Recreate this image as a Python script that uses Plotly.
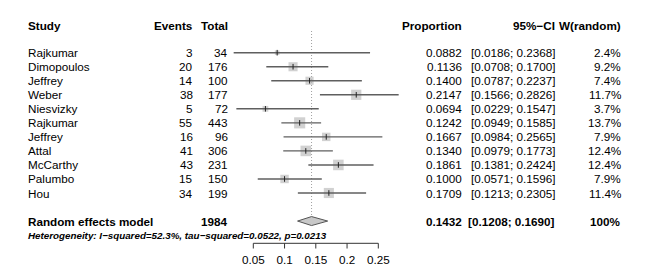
import plotly.graph_objects as go

studies = ["Rajkumar", "Dimopoulos", "Jeffrey", "Weber", "Niesvizky", "Rajkumar",
           "Jeffrey", "Attal", "McCarthy", "Palumbo", "Hou"]
events = [3, 20, 14, 38, 5, 55, 16, 41, 43, 15, 34]
totals = [34, 176, 100, 177, 72, 443, 96, 306, 231, 150, 199]
proportion = [0.0882, 0.1136, 0.1400, 0.2147, 0.0694, 0.1242, 0.1667, 0.1340, 0.1861, 0.1000, 0.1709]
ci_low = [0.0186, 0.0708, 0.0787, 0.1566, 0.0229, 0.0949, 0.0984, 0.0979, 0.1381, 0.0571, 0.1213]
ci_high = [0.2368, 0.1700, 0.2237, 0.2826, 0.1547, 0.1585, 0.2565, 0.1773, 0.2424, 0.1596, 0.2305]
weights = [2.4, 9.2, 7.4, 11.7, 3.7, 13.7, 7.9, 12.4, 12.4, 7.9, 11.4]

pooled_label = "Random effects model"
pooled_total = 1984
pooled_est = 0.1432
pooled_low = 0.1208
pooled_high = 0.1690
pooled_weight = "100%"
heterogeneity = "Heterogeneity: I\u2212squared=52.3%, tau\u2212squared=0.0522, p=0.0213"
tick_vals = [0.05, 0.1, 0.15, 0.2, 0.25]
tick_text = ["0.05", "0.1", "0.15", "0.2", "0.25"]

# page body has an 8px margin; size the figure so it fits the 650x271 window
OFF = 8
W, H = 650 - OFF, 271 - OFF
FONT = "Liberation Sans, Arial, sans-serif"
FS = 11.7

# target-pixel -> data mapping (target pixels measured on the 650x271 reference)
px0, v0, ppu = 253.3, 0.05, 625.0
def pxv(p):
    return v0 + (p - px0) / ppu

row_y0, row_step = 52.7, 14.03
def prow(p):
    return (p - row_y0) / row_step

rows = list(range(len(studies)))
pooled_row = 12
het_row = prow(235.3)
header_row = prow(25)
axis_row = prow(243.3)
tick_end_row = prow(248.5)
tick_label_row = prow(261.5)

fig = go.Figure()

# reference dotted line at pooled estimate
fig.add_trace(go.Scatter(x=[pooled_est, pooled_est], y=[prow(31), pooled_row - 0.3],
                         mode="lines", line=dict(color="#a0a0a0", width=1, dash="1px,2px"),
                         hoverinfo="skip", showlegend=False))

# squares
sizes = [3.0 * (w ** 0.5) for w in weights]
fig.add_trace(go.Scatter(x=proportion, y=rows, mode="markers",
                         marker=dict(symbol="square", size=sizes, color="#bebebe",
                                     line=dict(width=0)),
                         hoverinfo="skip", showlegend=False))

# CI lines
cx, cy = [], []
for r, lo, hi in zip(rows, ci_low, ci_high):
    cx += [lo, hi, None]
    cy += [r, r, None]
fig.add_trace(go.Scatter(x=cx, y=cy, mode="lines",
                         line=dict(color="#5f5f5f", width=1.4),
                         hoverinfo="skip", showlegend=False))

# center ticks
fig.add_trace(go.Scatter(x=proportion, y=rows, mode="markers",
                         marker=dict(symbol="line-ns", size=4,
                                     line=dict(color="#222222", width=1)),
                         hoverinfo="skip", showlegend=False))

# diamond
fig.add_trace(go.Scatter(x=[pooled_low, pooled_est, pooled_high, pooled_est, pooled_low],
                         y=[pooled_row, pooled_row - 0.32, pooled_row, pooled_row + 0.32, pooled_row],
                         mode="lines", fill="toself", fillcolor="#c8c8c8",
                         line=dict(color="#555555", width=1),
                         hoverinfo="skip", showlegend=False))

# x axis (drawn on the data scale)
ax_x, ax_y = [tick_vals[0], tick_vals[-1], None], [axis_row, axis_row, None]
for tv in tick_vals:
    ax_x += [tv, tv, None]
    ax_y += [axis_row, tick_end_row, None]
fig.add_trace(go.Scatter(x=ax_x, y=ax_y, mode="lines",
                         line=dict(color="#333333", width=1),
                         hoverinfo="skip", showlegend=False))
fig.add_trace(go.Scatter(x=tick_vals, y=[tick_label_row] * len(tick_vals), mode="text",
                         text=tick_text, textposition="middle center",
                         textfont=dict(family=FONT, size=FS, color="black"),
                         cliponaxis=False, hoverinfo="skip", showlegend=False))

ann = []
def txt(px, row, s, anchor, bold=False, italic=False, size=FS):
    t = s
    if bold:
        t = "<b>" + t + "</b>"
    if italic:
        t = "<i>" + t + "</i>"
    ann.append(dict(x=pxv(px), xref="x", y=row, yref="y", text=t, showarrow=False,
                    xanchor=anchor, yanchor="middle",
                    font=dict(family=FONT, size=size, color="black")))

x_study, x_events, x_total = 25.7, 194.5, 229.5
x_prop, x_ci, x_w = 463.5, 556.5, 623

txt(x_study, header_row, "Study", "left", bold=True)
txt(x_events, header_row, "Events", "right", bold=True)
txt(x_total, header_row, "Total", "right", bold=True)
txt(x_prop, header_row, "Proportion", "right", bold=True)
txt(x_ci, header_row, "95%\u2212CI", "right", bold=True)
txt(x_w, header_row, "W(random)", "right", bold=True)

for r, s, e, n, p, lo, hi, w in zip(rows, studies, events, totals, proportion, ci_low, ci_high, weights):
    txt(x_study, r, s, "left")
    txt(x_events, r, str(e), "right")
    txt(x_total, r, str(n), "right")
    txt(x_prop, r, f"{p:.4f}", "right")
    txt(x_ci, r, f"[{lo:.4f}; {hi:.4f}]", "right")
    txt(x_w, r, f"{w:.1f}%", "right")

txt(x_study, pooled_row, pooled_label, "left", bold=True)
txt(x_total, pooled_row, str(pooled_total), "right", bold=True)
txt(x_prop, pooled_row, f"{pooled_est:.4f}", "right", bold=True)
txt(x_ci, pooled_row, f"[{pooled_low:.4f}; {pooled_high:.4f}]", "right", bold=True)
txt(x_w, pooled_row, pooled_weight, "right", bold=True)
txt(x_study, het_row, heterogeneity, "left", bold=True, italic=True, size=9.8)

fig.update_layout(
    width=W, height=H,
    margin=dict(l=0, r=0, t=0, b=0),
    paper_bgcolor="white", plot_bgcolor="rgba(0,0,0,0)",
    annotations=ann,
    # figure pixel f corresponds to target pixel f + OFF
    xaxis=dict(domain=[0, 1], range=[pxv(OFF), pxv(OFF + W)], visible=False, fixedrange=True),
    yaxis=dict(domain=[0, 1], range=[prow(OFF + H), prow(OFF)], visible=False, fixedrange=True),
    showlegend=False,
)

fig.write_html("out.html")
